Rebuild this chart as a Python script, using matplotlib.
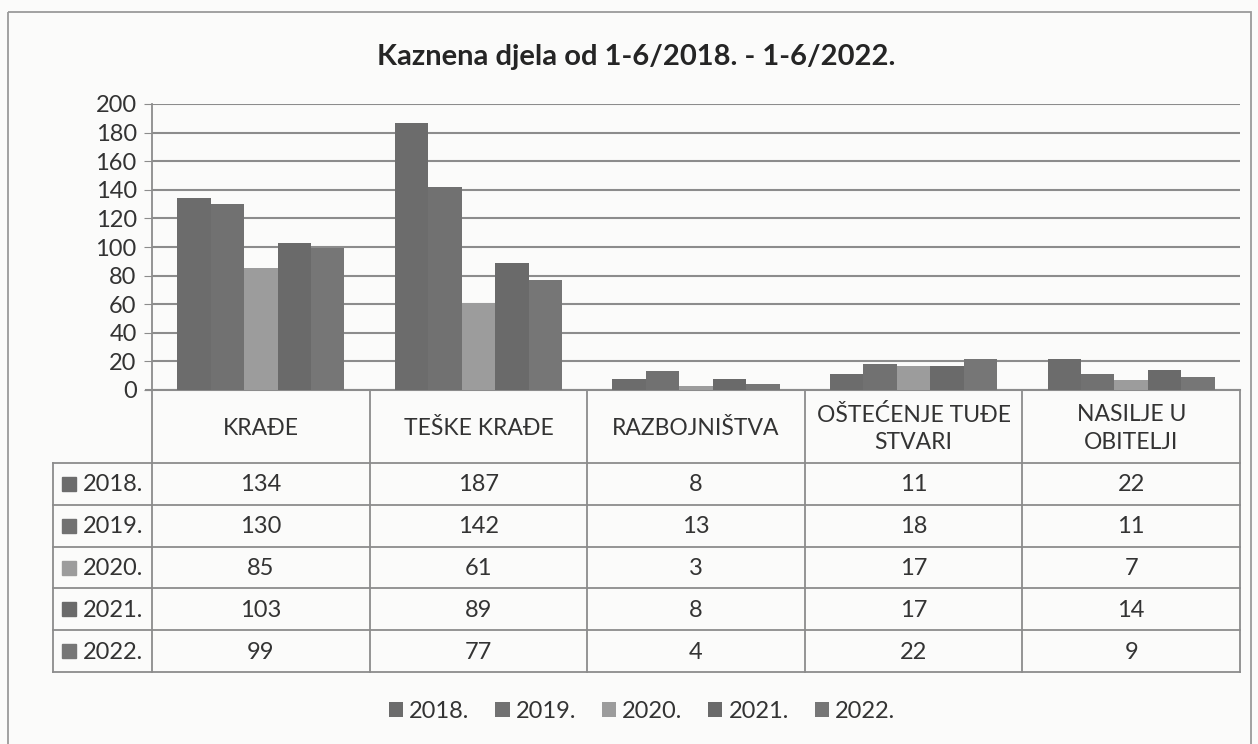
import matplotlib
matplotlib.use("Agg")
import matplotlib.pyplot as plt
from matplotlib.patches import Rectangle

# data
categories = ["KRAĐE", "TEŠKE KRAĐE", "RAZBOJNIŠTVA", "OŠTEĆENJE TUĐE\nSTVARI", "NASILJE U\nOBITELJI"]
years = ["2018.", "2019.", "2020.", "2021.", "2022."]
v2018 = [134, 187, 8, 11, 22]
v2019 = [130, 142, 13, 18, 11]
v2020 = [85, 61, 3, 17, 7]
v2021 = [103, 89, 8, 17, 14]
v2022 = [99, 77, 4, 22, 9]
series = [v2018, v2019, v2020, v2021, v2022]
colors = ["#6c6c6c", "#717171", "#9c9c9c", "#6a6a6a", "#767676"]

W, H = 1258, 744
bg = "#fbfbfa"
line_c = "#8c8c8c"
txt_c = "#333333"
fs = 16.5
plt.rcParams["font.family"] = ["Lato", "DejaVu Sans"]

fig = plt.figure(figsize=(W / 100, H / 100), dpi=100, facecolor=bg)

# overlay in pixel coords for frame, table and title
ov = fig.add_axes([0, 0, 1, 1])
ov.set_xlim(0, W)
ov.set_ylim(H, 0)
ov.axis("off")
ov.add_patch(Rectangle((8, 12), 1243, 760, fill=False, ec="#9a9a9a", lw=1.3))
ov.text(636, 57, "Kaznena djela od 1-6/2018. - 1-6/2022.", ha="center", va="center",
        fontsize=21, fontweight="bold", color="#252525")

left, right, top, zero = 152, 1240, 104, 390
ax = fig.add_axes([left / W, 1 - zero / H, (right - left) / W, (zero - top) / H])
ax.set_facecolor("none")
n = len(years)
w = 1 / 6.5
for j, (vals, c) in enumerate(zip(series, colors)):
    xs = [i + (j - (n - 1) / 2) * w for i in range(len(categories))]
    ax.bar(xs, vals, width=w, color=c, label=years[j], zorder=3)
ax.set_xlim(-0.5, len(categories) - 0.5)
ax.set_ylim(0, 200)
ax.set_yticks(range(0, 201, 20))
ax.yaxis.grid(True, color=line_c, lw=1.5)
ax.set_axisbelow(True)
ax.set_xticks([])
for s in ["top", "right", "bottom"]:
    ax.spines[s].set_visible(False)
ax.spines["left"].set_color(line_c)
ax.spines["left"].set_linewidth(1.3)
ax.tick_params(axis="y", length=6, color=line_c, labelsize=17, labelcolor=txt_c, pad=5)

# data table
col_w = (right - left) / len(categories)
row_top = 463
row_h = 41.8
tab_left = 53
tab_bottom = row_top + row_h * n
ov.plot([left - 6, right], [zero, zero], color=line_c, lw=1.5)
for k in range(len(categories) + 1):
    x = left + k * col_w
    ov.plot([x, x], [zero, tab_bottom], color=line_c, lw=1.3)
ov.plot([tab_left, tab_left], [row_top, tab_bottom], color=line_c, lw=1.3)
for r in range(n + 1):
    y = row_top + r * row_h
    ov.plot([tab_left, right], [y, y], color=line_c, lw=1.3)
for i, cat in enumerate(categories):
    ov.text(left + (i + 0.5) * col_w, (zero + row_top) / 2 + 2, cat, ha="center", va="center",
            fontsize=fs, color=txt_c, linespacing=1.4)
for r, (yr, vals, c) in enumerate(zip(years, series, colors)):
    yc = row_top + (r + 0.5) * row_h
    ov.add_patch(Rectangle((62, yc - 7), 14, 14, color=c))
    ov.text(83, yc + 1, yr, ha="left", va="center", fontsize=17, color=txt_c)
    for i, v in enumerate(vals):
        ov.text(left + (i + 0.5) * col_w, yc + 1, str(v), ha="center", va="center",
                fontsize=17, color=txt_c)

handles, labels = ax.get_legend_handles_labels()
fig.legend(handles, labels, loc="center", bbox_to_anchor=(642 / W, 1 - 711 / H), ncol=5,
           frameon=False, fontsize=17, handlelength=0.6, handleheight=0.6,
           handletextpad=0.25, columnspacing=1.1, labelcolor=txt_c)

fig.savefig("out.png", dpi=100, facecolor=bg)
